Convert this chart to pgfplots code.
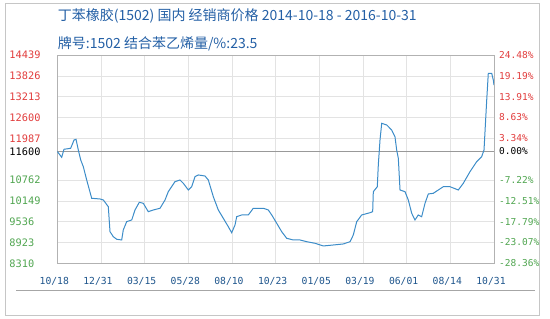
\documentclass[border=0pt]{standalone}
\usepackage{pgfplots}
\pgfplotsset{compat=1.18}
\usepackage{fontspec}
\setmainfont{DejaVu Sans}
\newfontfamily\cjk{Noto Sans CJK SC}
\newfontfamily\monof{DejaVu Sans Mono}
\definecolor{tblue}{RGB}{35,95,165}
\definecolor{xblue}{RGB}{30,85,140}
\definecolor{rd}{RGB}{225,60,60}
\definecolor{gn}{RGB}{80,165,80}
\definecolor{lineblue}{RGB}{60,140,200}
\pgfplotstableread{
d v
0 11600
7.5 11429
11.4 11665
22.8 11694
28.5 11938
31.9 11959
35.8 11644
39.9 11350
44.3 11153
50.1 10761
58.6 10223
72.7 10203
78.4 10173
86.9 9976
89.8 9240
95.4 9093
101.2 9017
109.7 8996
112.4 9290
118.2 9535
126.8 9585
132.4 9879
139.7 10105
146.5 10076
155.0 9829
163.6 9879
175.0 9929
183.5 10173
189.1 10417
200.5 10712
209.0 10761
214.7 10664
223.2 10467
229.0 10564
234.6 10859
240.2 10909
251.6 10879
257.3 10761
265.8 10270
274.3 9879
282.8 9635
291.3 9388
297.1 9211
302.8 9438
305.6 9682
314.2 9732
325.4 9732
333.9 9929
351.0 9929
359.5 9879
365.3 9732
373.8 9488
382.3 9240
390.8 9046
402.1 8996
413.5 8996
424.9 8946
439.0 8899
453.2 8820
470.2 8849
487.3 8879
498.7 8946
504.3 9143
510.1 9535
518.6 9732
532.8 9799
537.3 9829
538.4 10417
545.2 10564
546.9 11203
549.8 11938
552.7 12430
561.2 12380
569.7 12232
575.3 12035
578.2 11644
581.0 11400
583.9 10467
592.4 10417
598.0 10173
603.8 9782
609.4 9585
615.0 9732
620.8 9682
626.5 10076
632.1 10350
640.6 10370
657.6 10564
669.0 10564
683.2 10467
691.7 10664
703.1 11006
714.5 11300
723.0 11447
727.0 11644
731.6 13115
734.3 13901
740.1 13901
742.8 13704
744 13556
}\price
\begin{document}
\begin{tikzpicture}
\useasboundingbox (0pt,0pt) rectangle (550pt,319pt);
\draw[gray!45, line width=0.8pt] (5.5pt,4pt) rectangle (539.5pt,315.5pt);
\draw[gray!70, line width=0.8pt] (16pt,29pt) -- (535pt,29pt);
\node[anchor=west, inner sep=0pt, text=tblue, font=\cjk\fontsize{14}{16}\selectfont] at (57.7pt,303.3pt) {丁苯橡胶(1502) 国内 经销商价格 2014-10-18 - 2016-10-31};
\node[anchor=west, inner sep=0pt, text=tblue, font=\cjk\fontsize{14}{16}\selectfont] at (57.7pt,275.3pt) {牌号:1502 结合苯乙烯量/\%:23.5};
\begin{axis}[
  at={(57.3pt,55.7pt)}, anchor=south west,
  scale only axis, width=436.7pt, height=208.3pt,
  xmin=0, xmax=744, ymin=8310, ymax=14439,
  scaled y ticks=false, scaled x ticks=false,
  axis line style={gray!60},
  major tick length=0pt,
  grid=major, grid style={gray!22, line width=0.6pt},
  xtick={0,74.4,148.8,223.2,297.6,372,446.4,520.8,595.2,669.6,744},
  xticklabels={10/18,12/31,03/15,05/28,08/10,10/23,01/05,03/19,06/01,08/14,10/31},
  xticklabel style={anchor=center, yshift=-17.7pt, xshift=-3pt, font=\monof\fontsize{9.7}{10}\selectfont, text=xblue, inner sep=0pt},
  ytick={8310,8922.9,9535.8,10148.7,10761.6,11987.4,12600.3,13213.2,13826.1,14439},
  yticklabels={\textcolor{gn}{8310},\textcolor{gn}{8923},\textcolor{gn}{9536},\textcolor{gn}{10149},\textcolor{gn}{10762},\textcolor{rd}{11987},\textcolor{rd}{12600},\textcolor{rd}{13213},\textcolor{rd}{13826},\textcolor{rd}{14439}},
  extra y ticks={11600},
  extra y tick labels={\textcolor{black}{11600}},
  extra y tick style={grid style={gray!80, line width=0.7pt}},
  yticklabel style={anchor=west, xshift=-48pt, inner sep=0pt, font=\monof\fontsize{10.3}{11}\selectfont},
]
\addplot[lineblue, line width=1pt] table[x=d, y=v] {\price};
\end{axis}
\begin{axis}[
  at={(57.3pt,55.7pt)}, anchor=south west,
  scale only axis, width=436.7pt, height=208.3pt,
  xmin=0, xmax=744, ymin=8310, ymax=14439,
  scaled y ticks=false, scaled x ticks=false,
  axis x line=none, axis y line*=right,
  axis line style={gray!60},
  major tick length=0pt,
  ytick={8310,8922.9,9535.8,10148.7,10761.6,11600,11987.4,12600.3,13213.2,13826.1,14439},
  yticklabels={\textcolor{gn}{-28.36\%},\textcolor{gn}{-23.07\%},\textcolor{gn}{-17.79\%},\textcolor{gn}{-12.51\%},\textcolor{gn}{-7.22\%},\textcolor{black}{0.00\%},\textcolor{rd}{3.34\%},\textcolor{rd}{8.63\%},\textcolor{rd}{13.91\%},\textcolor{rd}{19.19\%},\textcolor{rd}{24.48\%}},
  yticklabel style={anchor=west, xshift=5pt, inner sep=0pt, font=\monof\fontsize{9.5}{10}\selectfont},
]
\addplot[draw=none] coordinates {(0,11600)};
\end{axis}
\end{tikzpicture}
\end{document}
